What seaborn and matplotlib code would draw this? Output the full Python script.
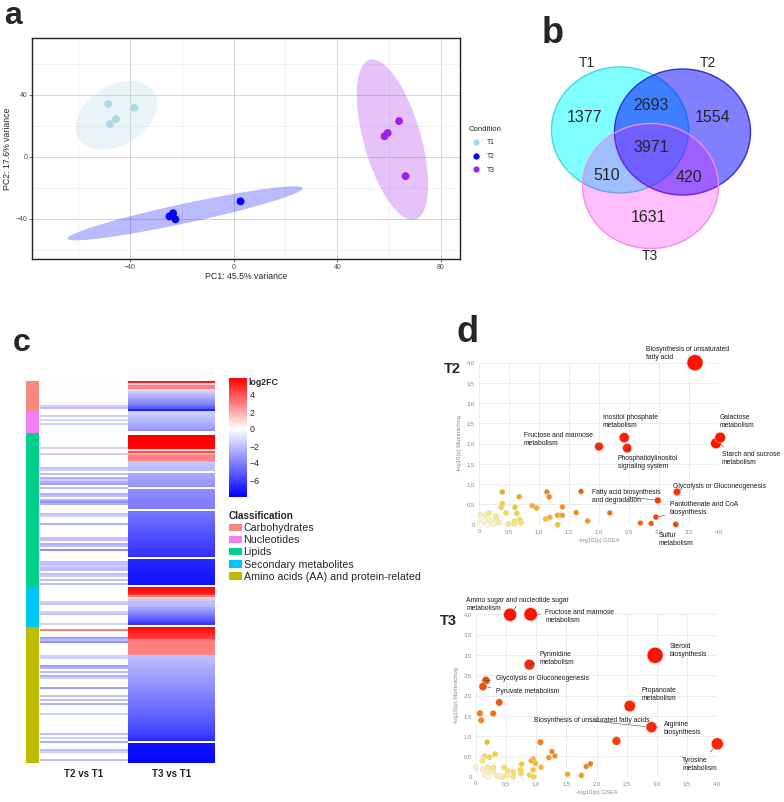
import numpy as np
import pandas as pd
import matplotlib
matplotlib.use("Agg")
import matplotlib.pyplot as plt
import seaborn as sns
from matplotlib.colors import LinearSegmentedColormap, ListedColormap, to_rgba
from matplotlib.patches import Ellipse, Patch
from matplotlib.ticker import FuncFormatter, MultipleLocator

sns.set_style("white")
plt.rcParams["font.family"] = ["Liberation Sans", "DejaVu Sans"]

# ---------------- data: panel a (PCA) ----------------
pc1 = [-48.3, -38.3, -45.3, -47.6, -24.7, -23.3, -22.4, 2.7, 58.2, 59.4, 63.8, 66.3]
pc2 = [34.0, 31.6, 24.3, 21.0, -38.5, -36.5, -40.4, -28.8, 13.2, 15.3, 23.0, -12.5]
condition = ["T1"] * 4 + ["T2"] * 4 + ["T3"] * 4
cond_levels = ["T1", "T2", "T3"]
cond_colors = ["#ADD8E6", "#0000FF", "#A020F0"]

# ---------------- data: panel b (Venn) ----------------
venn_sets = ["T1", "T2", "T3"]
venn_regions = ["T1", "T1&T2", "T2", "T1&T2&T3", "T1&T3", "T2&T3", "T3"]
venn_counts = [1377, 2693, 1554, 3971, 510, 420, 1631]

# ---------------- data: panel c (heatmap, log2FC) ----------------
classes = ["Carbohydrates", "Nucleotides", "Lipids", "Secondary metabolites",
           "Amino acids (AA) and protein-related"]
class_colors = ["#F8877F", "#EF80F3", "#00D08A", "#00C6F6", "#BDBD00"]

carb_t2 = [0, 0, 0, 0, 0, 0, 0, 0, 0, 0, 0, 0, -1.5, -2.0, 0]
carb_t3 = [5.5, 1.0, 3.0, 3.0, -1.2, -1.6, -2.0, -2.4, -2.8, -3.2, -3.6, -4.0, -4.6, -5.2, -7.0]

nucl_t2 = [0, 0, -1.5, 0, -1.2, 0, -1.5, 0, 0, 0, 0]
nucl_t3 = [-1.4, -1.6, -1.8, -2.0, -2.2, -2.4, -2.6, -2.8, -3.0, -3.3, 0]

lipid_t2 = [0, 0, 0, 0, 0, 0, 0, -1.5, 0, 0,
            -1.5, 0, 0, 0, 0, 0, 0, -1.8, -1.5, 0,
            -2.0, 0, -2.5, -1.5, -2.5, -3.0, 0, -2.0, 0, 0,
            -2.5, -2.0, 0, -2.5, -3.5, -2.5, 0, 0, 0, 0,
            -2.0, -1.5, 0, 0, 0, -2.5, 0, 0, 0, 0,
            0, 0, -2.0, -2.0, 0, -2.5, -2.0, 0, -3.5, 0,
            0, 0, 0, 0, -2.0, -2.0, -1.5, -2.0, -2.0, 0,
            -2.0, -1.5, 0, -2.0, 0, -2.0, 0]
lipid_t3 = [0, 6.2, 6.2, 6.0, 6.0, 6.0, 5.8, 5.8, 1.0, 4.0,
            2.0, 3.0, 3.0, 2.8, -1.8, -1.9, -2.0, -2.1, -2.2, 0,
            -2.7, -2.8, -2.9, -3.0, -3.1, -3.2, -3.3, 0, -3.6, -3.7,
            -3.7, -3.8, -3.8, -3.9, -3.9, -4.0, -4.0, -4.1, 0, -4.3,
            -4.4, -4.5, -4.6, -4.7, -4.8, -4.9, -5.0, -5.1, -5.2, -5.3,
            -5.4, -5.5, -5.6, -5.7, -5.8, -5.9, -6.0, -6.1, -6.2, -6.3,
            -6.4, -6.5, 0, -6.7, -6.8, -6.9, -7.0, -7.0, -7.1, -7.1,
            -7.2, -7.2, -7.3, -7.3, -7.4, -7.5, 0]

sec_t2 = [0, 0, 0, 0, 0, 0, 0, -1.5, -1.8, 0, 0, 0, -1.5, -1.8, 0, 0, 0, 0, -1.5, 0]
sec_t3 = [5.8, 5.6, 5.4, 5.0, 3.0, 1.0, -1.8, -2.0, -2.0, -2.2,
          -2.8, -3.2, -3.6, -4.0, -4.4, -4.8, -5.2, -5.8, -6.3, 0]

aa_t2 = [0, 3.0, 0, 0, 0, -3.0, -2.0, -3.5, 0, 0,
         0, 0, 0, 0, -1.5, -1.5, 0, 0, 0, -3.0,
         -2.5, 0, -2.0, 0, -2.5, -1.5, 0, 0, 0, 0,
         -3.0, 0, 0, 0, -2.0, 0, -2.0, 0, -2.5, 0,
         0, 0, 0, -1.5, 0, 0, 0, 0, 0, 0,
         0, 0, 0, -2.0, 0, -1.5, 0, -2.5, 0, 0,
         0, -2.0, -1.5, 0, 0, 0, -2.0, 0]
aa_t3 = [5.8, 5.5, 5.2, 5.0, 4.8, 4.5, 3.2, 3.0, 3.0, 3.0,
         3.0, 3.0, 3.0, 2.8, -2.0, -2.1, -2.2, -2.3, -2.4, -2.5,
         -2.6, -2.7, -2.8, -2.9, -3.0, -3.1, -3.2, -3.3, -3.4, -3.5,
         -3.6, -3.7, -3.8, -3.9, -4.0, -4.1, -4.2, -4.3, -4.4, -4.5,
         -4.6, -4.7, -4.8, -4.9, -5.0, -5.1, -5.2, -5.3, -5.4, -5.6,
         -5.7, -5.8, -5.9, -6.0, -6.2, -6.4, -6.6, 0, -7.5, -7.5,
         -7.6, -7.6, -7.6, -7.7, -7.7, -7.7, -7.8, -7.8]

# ---------------- data: panel d (bubble plots) ----------------
t2_gsea = [0.02, 0.11, 0.17, 0.28, 0.29, 0.03, 0.11, 0.18, 0.27, 0.34, 0.02, 0.14, 0.24, 0.09,
           0.39, 0.39, 0.37, 0.45, 0.67, 0.60, 0.63, 0.68, 0.70, 0.59, 0.59, 0.49, 0.89, 0.96,
           1.13, 1.17, 1.11, 1.18, 1.31, 1.39, 1.39, 1.31, 1.62, 1.81, 1.70, 2.18, 2.69, 2.87,
           2.95, 2.98, 3.30, 3.28, 2.00, 2.42, 2.47, 3.95, 4.02, 3.60]
t2_mummi = [0.24, 0.23, 0.29, 0.21, 0.17, 0.07, 0.08, 0.11, 0.05, 0.05, 0.00, 0.00, 0.01, 0.10,
            0.81, 0.52, 0.43, 0.29, 0.69, 0.43, 0.28, 0.13, 0.05, 0.09, 0.02, 0.02, 0.47, 0.41,
            0.81, 0.69, 0.14, 0.18, 0.23, 0.44, 0.23, 0.00, 0.30, 0.09, 0.82, 0.29, 0.04, 0.03,
            0.19, 0.60, 0.81, 0.01, 1.93, 2.15, 1.89, 2.01, 2.15, 4.00]
t2_hits = [2.8] * 14 + [3] * 28 + [3.6, 4.5, 5.3, 3.6, 7.6, 10, 8.6, 11.4, 11.4, 25.6]
t2_names = [""] * 42 + ["Pantothenate and CoA\nbiosynthesis", "Fatty acid biosynthesis\nand degradation",
                        "Glycolysis or Gluconeogenesis", "Sulfur\nmetabolism",
                        "Fructose and mannose\nmetabolism", "Inositol phosphate\nmetabolism",
                        "Phosphatidylinositol\nsignaling system", "Starch and sucrose\nmetabolism",
                        "Galactose\nmetabolism", "Biosynthesis of unsaturated\nfatty acid"]

t3_gsea = [0.15, 0.23, 0.32, 0.11, 0.00, 0.20, 0.29, 0.12, 0.19, 0.29, 0.15, 0.20, 0.36, 0.41,
           0.46, 0.47, 0.53, 0.62, 0.62, 0.52,
           0.19, 1.26, 1.31, 1.21, 1.08, 0.95, 0.92, 0.99, 0.76, 0.74, 0.75, 0.95, 0.89, 0.96,
           1.52, 1.75, 1.83, 1.90,
           1.07, 0.07, 0.29, 0.09, 0.39, 2.33,
           0.17, 0.12, 0.89, 2.55, 2.91, 4.00, 0.57, 0.91, 2.97]
t3_mummi = [0.51, 0.48, 0.56, 0.39, 0.23, 0.23, 0.23, 0.17, 0.14, 0.12, 0.05, 0.00, 0.02, 0.00,
            0.00, 0.23, 0.14, 0.12, 0.00, 0.03,
            0.85, 0.62, 0.51, 0.47, 0.23, 0.43, 0.39, 0.33, 0.31, 0.17, 0.08, 0.17, 0.04, 0.00,
            0.06, 0.03, 0.25, 0.32,
            0.85, 1.56, 1.56, 1.39, 1.83, 0.88,
            2.37, 2.22, 2.76, 1.74, 1.22, 0.81, 3.99, 4.00, 2.99]
t3_hits = [3] * 38 + [4, 4, 4, 4, 5.3, 7.6, 6.4, 6.4, 11.4, 12.8, 12, 14.4, 17, 17.7, 25.6]
t3_names = [""] * 44 + ["Glycolysis or Gluconeogenesis", "Pyruvate metabolism",
                        "Pyrimidine\nmetabolism", "Propanoate\nmetabolism",
                        "Arginine\nbiosynthesis", "Tyrosine\nmetabolism",
                        "Amino sugar and nucleotide sugar\nmetabolism",
                        "Fructose and mannose\nmetabolism", "Steroid\nbiosynthesis"]

# ---------------- figure ----------------
W, H = 784, 802
fig = plt.figure(figsize=(W / 100, H / 100), dpi=100)


def rect(l, t, r, b):
    return [l / W, 1 - b / H, (r - l) / W, (b - t) / H]


def panel_label(s, x, y, size):
    fig.text(x / W, 1 - y / H, s, fontsize=size, fontweight="bold", ha="left", va="baseline")


def cov_trob(x, nu=5, maxit=25, tol=0.01):
    """Multivariate t robust covariance (as MASS::cov.trob, used by stat_ellipse)."""
    n, p = x.shape
    wt = np.ones(n)
    loc = x.mean(axis=0)
    w = np.sqrt(wt)
    X = x - loc
    for _ in range(maxit):
        w0 = w
        X = x - loc
        A = np.sqrt(w / w.sum())[:, None] * X
        _, d, vt = np.linalg.svd(A, full_matrices=False)
        wX = X @ vt.T @ np.diag(1 / d)
        Q = (wX ** 2).sum(axis=1)
        w = (wt * (nu + p)) / (nu + Q)
        loc = (w[:, None] * x).sum(axis=0) / w.sum()
        if np.all(np.abs(w - w0) < tol):
            break
    sw = np.sqrt(w)[:, None] * X
    return loc, sw.T @ sw / wt.sum()


# ======== panel a ========
pca = pd.DataFrame({"PC1": pc1, "PC2": pc2, "Condition": condition})
axA = fig.add_axes(rect(32, 38, 460, 259))
axA.set_xlim(-77.7, 87.3)
axA.set_ylim(-66, 76.6)
tt = np.linspace(0, 2 * np.pi, 240)
unit = np.column_stack([np.cos(tt), np.sin(tt)])
QF95_2_3 = 9.552094  # F(0.95; 2, 3)
radius = np.sqrt(2 * QF95_2_3)
for lev, col in zip(cond_levels, cond_colors):
    sub = pca[pca["Condition"] == lev][["PC1", "PC2"]].to_numpy()
    center, shape = cov_trob(sub)
    chol = np.linalg.cholesky(shape).T
    pts = center + radius * unit @ chol
    axA.fill(pts[:, 0], pts[:, 1], color=col, alpha=0.27, lw=0, zorder=1)
sns.scatterplot(data=pca, x="PC1", y="PC2", hue="Condition", hue_order=cond_levels,
                palette=dict(zip(cond_levels, cond_colors)), s=32, linewidth=0, ax=axA, zorder=3)
axA.set_xticks([-40, 0, 40, 80])
axA.set_yticks([-40, 0, 40])
axA.xaxis.set_minor_locator(MultipleLocator(20))
axA.yaxis.set_minor_locator(MultipleLocator(20))
axA.grid(True, which="major", color="#D6D6D6", lw=0.7)
axA.grid(True, which="minor", color="#EBEBEB", lw=0.45)
axA.set_axisbelow(True)
axA.tick_params(which="major", length=2, width=0.5, color="#333333", labelsize=5,
                labelcolor="#4D4D4D", pad=1.5, left=True, bottom=True)
axA.tick_params(which="minor", length=0)
for sp in axA.spines.values():
    sp.set_color("#222222")
    sp.set_linewidth(1.0)
axA.set_xlabel("PC1: 45.5% variance", fontsize=6.3, labelpad=1)
axA.set_ylabel("PC2: 17.6% variance", fontsize=6.3, labelpad=2)
sns.move_legend(axA, "upper left", bbox_to_anchor=(1.015, 0.615), frameon=False,
                title="Condition", fontsize=4.8, title_fontsize=5.6, markerscale=0.8,
                handletextpad=0.6, labelspacing=1.0, borderaxespad=0, alignment="left")
panel_label("a", 4, 24, 23)

# ======== panel b ========
axB = fig.add_axes(rect(530, 40, 784, 270))
axB.set_xlim(530, 784)
axB.set_ylim(270, 40)
axB.axis("off")
circles = {"T1": ((620, 130), 137, 126, "#00FFFF", 0.5, "#40D8E8"),
           "T2": ((682.5, 132), 136, 126, "#0000FF", 0.5, "#3030D8"),
           "T3": ((650.5, 186), 136, 125, "#FF00FF", 0.25, "#F08CF0")}
for name in venn_sets:
    c, w, h, fc, a, ec = circles[name]
    axB.add_patch(Ellipse(c, w, h, facecolor=to_rgba(fc, a), edgecolor=ec, lw=1.0))
set_label_pos = {"T1": (587, 63), "T2": (708, 63), "T3": (650, 256)}
for name in venn_sets:
    axB.text(*set_label_pos[name], name, fontsize=10, ha="center", va="center")
region_pos = {"T1": (584, 117), "T1&T2": (651, 106), "T2": (713, 117), "T1&T2&T3": (651, 147),
              "T1&T3": (607, 176), "T2&T3": (689, 177), "T3": (648, 217)}
for reg, cnt in zip(venn_regions, venn_counts):
    axB.text(*region_pos[reg], str(cnt), fontsize=11.5, ha="center", va="center")
panel_label("b", 542, 43, 26)

# ======== panel c ========
t2_all = carb_t2 + nucl_t2 + lipid_t2 + sec_t2 + aa_t2
t3_all = carb_t3 + nucl_t3 + lipid_t3 + sec_t3 + aa_t3
group_sizes = [len(carb_t3), len(nucl_t3), len(lipid_t3), len(sec_t3), len(aa_t3)]
codes = np.repeat(np.arange(len(classes)), group_sizes)
hm = pd.DataFrame({"T2 vs T1": t2_all, "T3 vs T1": t3_all})
ann = pd.DataFrame({"Classification": codes})

vmin, vmax = -8, 6
l2fc_cmap = LinearSegmentedColormap.from_list(
    "l2fc", [(0, "#0000FF"), (-vmin / (vmax - vmin), "#FFFFFF"), (1, "#FF0000")])

axAnn = fig.add_axes(rect(26, 380.7, 39, 763.3))
sns.heatmap(ann, ax=axAnn, cmap=ListedColormap(class_colors), vmin=-0.5, vmax=4.5,
            cbar=False, xticklabels=False, yticklabels=False)
axHm = fig.add_axes(rect(40, 380.7, 215, 763.3))
axCb = fig.add_axes(rect(229, 378, 247, 497))
sns.heatmap(hm, ax=axHm, cmap=l2fc_cmap, vmin=vmin, vmax=vmax, cbar_ax=axCb,
            yticklabels=False, cbar_kws={"ticks": [-6, -4, -2, 0, 2, 4]})
axHm.tick_params(axis="x", length=0, pad=4)
for lab in axHm.get_xticklabels():
    lab.set_fontsize(7)
    lab.set_fontweight("bold")
    lab.set_rotation(0)
axCb.tick_params(length=0, labelsize=6.3, pad=2)
cbar = axHm.collections[0].colorbar
if cbar is not None:
    cbar.outline.set_visible(False)
axCb.text(1.1, 1.0, "log2FC", transform=axCb.transAxes, fontsize=6.3, fontweight="bold",
          ha="left", va="top")
handles = [Patch(facecolor=c, edgecolor="none", label=l) for c, l in zip(class_colors, classes)]
leg = fig.legend(handles=handles, title="Classification", loc="upper left",
                 bbox_to_anchor=(228 / W, 1 - 510 / H), frameon=False, fontsize=7.7,
                 title_fontsize=7.2, handlelength=1.2, handleheight=0.7, handletextpad=0.15,
                 labelspacing=0.2, borderaxespad=0, borderpad=0.1, alignment="left")
leg.get_title().set_fontweight("bold")
panel_label("c", 13, 351, 23)

# ======== panel d ========
bub_cmap = LinearSegmentedColormap.from_list(
    "bub", [(0, "#FFFBEF"), (0.3 / 6, "#FBF1C4"), (0.8 / 6, "#F6DC55"), (1.2 / 6, "#F5C62E"),
            (1.7 / 6, "#F4A01E"), (2.3 / 6, "#F27A18"), (2.9 / 6, "#F05812"),
            (3.8 / 6, "#F5380E"), (1.0, "#FF1400")])
fmt = FuncFormatter(lambda v, p: "0" if abs(v) < 1e-9 else f"{v:.1f}".replace(".", ","))


def bubble_panel(box, gsea, mummi, hits, names, label_pos, title, title_xy, lead):
    ax = fig.add_axes(rect(*box))
    df = pd.DataFrame({"gsea": gsea, "mummi": mummi, "hits": hits, "name": names})
    df["score"] = df["gsea"] + 1.4 * df["mummi"]
    ax.set_xlim(0, 4)
    ax.set_ylim(0, 4)
    ax.set_xticks(np.arange(0, 4.01, 0.5))
    ax.set_yticks(np.arange(0, 4.01, 0.5))
    ax.xaxis.set_major_formatter(fmt)
    ax.yaxis.set_major_formatter(fmt)
    ax.grid(True, color="#E9E9E9", lw=0.6)
    ax.set_axisbelow(True)
    for sp in ax.spines.values():
        sp.set_visible(False)
    ax.tick_params(length=0, labelsize=4.2, labelcolor="#8A8A8A", pad=3)
    sns.scatterplot(data=df, x="gsea", y="mummi", hue="score", hue_norm=(0, 6), palette=bub_cmap,
                    size="hits", size_norm=(0, 30), sizes=(0, 155), legend=False, ax=ax,
                    clip_on=False, edgecolor="#E2DCC6", linewidth=0.35, zorder=3)
    ax.set_xlabel("-log10(p) GSEA", fontsize=4.2, color="#8A8A8A", labelpad=3)
    ax.set_ylabel("-log10(p) Mummichog", fontsize=4.2, color="#8A8A8A", labelpad=3)
    for i, row in df.iterrows():
        if row["name"] == "":
            continue
        for lab, pos in label_pos.get(row["name"], []):
            r = np.sqrt(row["hits"] * 155 / 30) / 2
            arrow = None
            if lead.get(lab) is not None:
                arrow = dict(arrowstyle="-", color="#444444", lw=0.45, linestyle=lead[lab],
                             shrinkA=1.5, shrinkB=r + 0.5)
            ax.annotate(lab, xy=(row["gsea"], row["mummi"]), xytext=pos, textcoords="data",
                        fontsize=4.9, ha="left", va="top", linespacing=1.2, color="#1A1A1A",
                        arrowprops=arrow, annotation_clip=False, zorder=4)
    fig.text(title_xy[0] / W, 1 - title_xy[1] / H, title, fontsize=10.5, fontweight="bold",
             ha="left", va="baseline")
    return ax


t2_label_pos = {
    "Biosynthesis of unsaturated\nfatty acid": [("Biosynthesis of unsaturated\nfatty acid", (2.78, 4.40))],
    "Inositol phosphate\nmetabolism": [("Inositol phosphate\nmetabolism", (2.06, 2.73))],
    "Fructose and mannose\nmetabolism": [("Fructose and mannose\nmetabolism", (0.75, 2.30))],
    "Phosphatidylinositol\nsignaling system": [("Phosphatidylinositol\nsignaling system", (2.31, 1.72))],
    "Galactose\nmetabolism": [("Galactose\nmetabolism", (4.01, 2.73))],
    "Starch and sucrose\nmetabolism": [("Starch and sucrose\nmetabolism", (4.05, 1.83))],
    "Glycolysis or Gluconeogenesis": [("Glycolysis or Gluconeogenesis", (3.24, 1.04))],
    "Fatty acid biosynthesis\nand degradation": [("Fatty acid biosynthesis\nand degradation", (1.88, 0.88))],
    "Pantothenate and CoA\nbiosynthesis": [("Pantothenate and CoA\nbiosynthesis", (3.18, 0.58))],
    "Sulfur\nmetabolism": [("Sulfur\nmetabolism", (3.0, -0.17))],
}
t2_lead = {"Biosynthesis of unsaturated\nfatty acid": (0, (2, 1)),
           "Fructose and mannose\nmetabolism": (0, (3, 1)),
           "Phosphatidylinositol\nsignaling system": "-",
           "Starch and sucrose\nmetabolism": "-",
           "Fatty acid biosynthesis\nand degradation": (0, (2, 1)),
           "Pantothenate and CoA\nbiosynthesis": "-",
           "Sulfur\nmetabolism": "-"}
bubble_panel((479, 362.7, 719, 524.7), t2_gsea, t2_mummi, t2_hits, t2_names, t2_label_pos,
             "T2", (444, 373.5), t2_lead)

t3_label_pos = {
    "Amino sugar and nucleotide sugar\nmetabolism": [("Amino sugar and nucleotide sugar\nmetabolism", (-0.16, 4.42))],
    "Fructose and mannose\nmetabolism": [("Fructose and mannose\nmetabolism", (1.15, 4.13))],
    "Steroid\nbiosynthesis": [("Steroid\nbiosynthesis", (3.21, 3.29))],
    "Pyrimidine\nmetabolism": [("Pyrimidine\nmetabolism", (1.06, 3.10))],
    "Glycolysis or Gluconeogenesis": [("Glycolysis or Gluconeogenesis", (0.33, 2.50))],
    "Pyruvate metabolism": [("Pyruvate metabolism", (0.33, 2.18))],
    "Propanoate\nmetabolism": [("Propanoate\nmetabolism", (2.74, 2.22))],
    "Arginine\nbiosynthesis": [("Biosynthesis of unsaturated fatty acids", (0.97, 1.46)),
                               ("Arginine\nbiosynthesis", (3.11, 1.37))],
    "Tyrosine\nmetabolism": [("Tyrosine\nmetabolism", (3.42, 0.49))],
}
t3_lead = {"Amino sugar and nucleotide sugar\nmetabolism": "-",
           "Fructose and mannose\nmetabolism": "-",
           "Steroid\nbiosynthesis": "-",
           "Pyrimidine\nmetabolism": "-",
           "Glycolysis or Gluconeogenesis": "-",
           "Pyruvate metabolism": "-",
           "Propanoate\nmetabolism": "-",
           "Biosynthesis of unsaturated fatty acids": (0, (2, 1)),
           "Arginine\nbiosynthesis": "-",
           "Tyrosine\nmetabolism": "-"}
bubble_panel((475.7, 614.3, 717.3, 776.7), t3_gsea, t3_mummi, t3_hits, t3_names, t3_label_pos,
             "T3", (440, 625), t3_lead)
panel_label("d", 456, 342, 26)

fig.savefig("out.png", dpi=100)
